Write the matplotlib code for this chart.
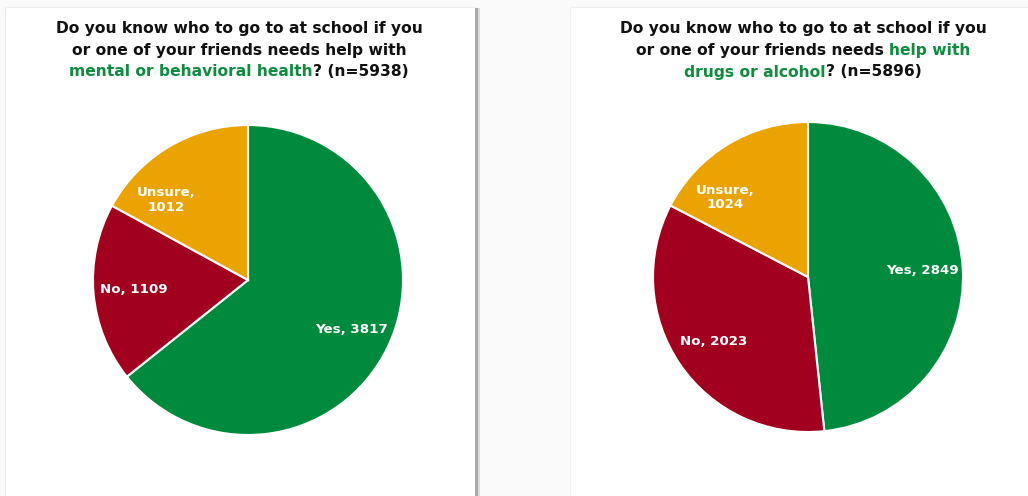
import matplotlib
matplotlib.use("Agg")
import numpy as np
import matplotlib.pyplot as plt
from matplotlib.patches import Rectangle

# ---------- Data ----------
CATEGORIES = ["Yes", "No", "Unsure"]
MENTAL_COUNTS = [3817, 1109, 1012]
DRUGS_COUNTS = [2849, 2023, 1024]
MENTAL_N = 5938
DRUGS_N = 5896

MENTAL_TITLE = [
    [("Do you know who to go to at school if you", False)],
    [("or one of your friends needs help with", False)],
    [("mental or behavioral health", True), (f"? (n={MENTAL_N})", False)],
]
DRUGS_TITLE = [
    [("Do you know who to go to at school if you", False)],
    [("or one of your friends needs", False), (" help with", True)],
    [("drugs or alcohol", True), (f"? (n={DRUGS_N})", False)],
]

# ---------- Style ----------
W, H, DPI = 1028, 496, 100
COLORS = {"Yes": "#008a3e", "No": "#a1001e", "Unsure": "#eaa300"}
TITLE_GREEN = "#0f8c3f"
FONT = "DejaVu Sans"
TITLE_SIZE = 11.2
LABEL_SIZE = 9.6
LABEL_R = 0.74
LABEL_NUDGE = {"Unsure": 15}   # degrees, keeps the label inside the narrow slice
WRAP_LABEL = {"Unsure"}

fig = plt.figure(figsize=(W / DPI, H / DPI), dpi=DPI)
fig.patch.set_facecolor("#fafafa")


def px_rect(x0, y0, x1, y1, **kw):
    # rectangle given in pixels from the top-left corner
    fig.patches.append(Rectangle((x0 / W, 1 - y1 / H), (x1 - x0) / W, (y1 - y0) / H,
                                 transform=fig.transFigure, **kw))


# cards + shadow line between them
px_rect(5, 7, 476, 500, facecolor="white", edgecolor="#eeeeee", linewidth=0.8, zorder=-2)
px_rect(570, 7, 1030, 500, facecolor="white", edgecolor="#efefef", linewidth=0.8, zorder=-2)
px_rect(475, 8, 478, 500, facecolor="#a9a9a9", edgecolor="none", zorder=-1)
px_rect(478, 8, 480, 500, facecolor="#dcdcdc", edgecolor="none", zorder=-1)

renderer = fig.canvas.get_renderer()


def text_width(s):
    t = fig.text(0, 0, s, fontsize=TITLE_SIZE, fontweight="bold", family=FONT)
    w = t.get_window_extent(renderer).width
    t.remove()
    return w


SPACE_W = text_width("x x") - text_width("xx")


def rich_title(lines, cx, y_first, spacing):
    for i, parts in enumerate(lines):
        y = y_first + i * spacing
        pieces = []
        for s, green in parts:
            gap = SPACE_W if s.startswith(" ") else 0.0
            s = s.strip()
            pieces.append((s, green, gap, text_width(s)))
        total = sum(p[2] + p[3] for p in pieces)
        x = cx - total / 2
        for s, green, gap, w in pieces:
            x += gap
            fig.text(x / W, 1 - y / H, s, fontsize=TITLE_SIZE, fontweight="bold",
                     family=FONT, color=TITLE_GREEN if green else "#111111",
                     ha="left", va="center")
            x += w


def draw_pie(counts, cx, cy, r):
    pad = 1.02
    ax = fig.add_axes([(cx - r * pad) / W, 1 - (cy + r * pad) / H,
                       2 * r * pad / W, 2 * r * pad / H], zorder=2)
    wedges, _ = ax.pie(counts, colors=[COLORS[c] for c in CATEGORIES], startangle=90,
                       counterclock=False, radius=1,
                       wedgeprops=dict(edgecolor="white", linewidth=1.5))
    ax.set_xlim(-pad, pad)
    ax.set_ylim(-pad, pad)
    ax.set_aspect("auto")
    ax.axis("off")
    for w, cat, v in zip(wedges, CATEGORIES, counts):
        mid = np.deg2rad((w.theta1 + w.theta2) / 2 + LABEL_NUDGE.get(cat, 0))
        sep = ",\n" if cat in WRAP_LABEL else ", "
        ax.text(LABEL_R * np.cos(mid), LABEL_R * np.sin(mid), f"{cat}{sep}{v}",
                ha="center", va="center", color="white", fontsize=LABEL_SIZE,
                fontweight="bold", family=FONT, linespacing=1.15)


rich_title(MENTAL_TITLE, 239, 28, 22)
rich_title(DRUGS_TITLE, 803, 28, 22)

draw_pie(MENTAL_COUNTS, 248, 280, 155)
draw_pie(DRUGS_COUNTS, 808, 277, 155)

fig.savefig("out.png", dpi=DPI, facecolor=fig.get_facecolor())
